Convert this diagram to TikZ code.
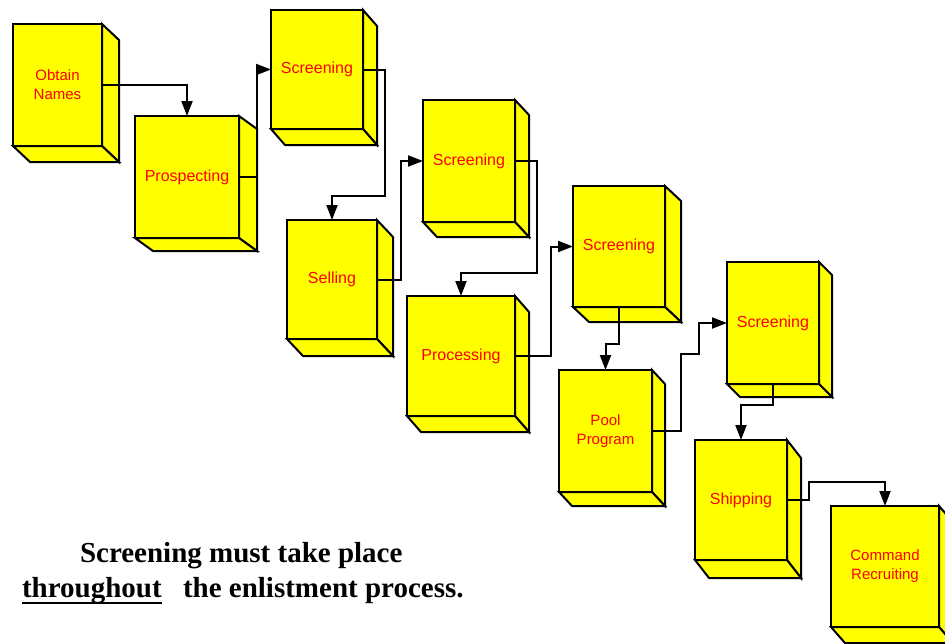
\documentclass[tikz,border=0pt]{standalone}
\usepackage{fontspec}
\setmainfont{Liberation Serif}
\newfontfamily\boxfont{Liberation Sans}
\usetikzlibrary{arrows.meta}
\definecolor{boxyellow}{RGB}{255,255,0}
\definecolor{boxred}{RGB}{255,0,0}
\tikzset{
  box/.style={draw, fill=boxyellow, line width=2pt, inner sep=0pt, outer sep=0pt,
    anchor=north west, text=boxred, align=center,
    font=\boxfont\fontsize{16}{19}\selectfont},
  small/.style={font=\boxfont\fontsize{15}{19}\selectfont},
  face/.style={draw, fill=boxyellow, line width=2pt, line join=miter},
  conn/.style={line width=2pt, -{Triangle[length=15pt,width=11pt]}},
  note/.style={inner sep=0pt, outer sep=0pt, anchor=base west,
    font=\bfseries\fontsize{29}{33}\selectfont}
}
% side and bottom faces of a box: node name, depth right, depth down
\newcommand\sides[3]{%
  \draw[face] (#1.north east) -- ++(#2,-#3) -- ([shift={(#2,-#3)}]#1.south east)
     -- (#1.south east) -- cycle;
  \draw[face] (#1.south west) -- ([shift={(#2,-#3)}]#1.south west)
     -- ([shift={(#2,-#3)}]#1.south east) -- (#1.south east) -- cycle;
}
\begin{document}
\begin{tikzpicture}[x=1pt,y=1pt]
\useasboundingbox (0,0) rectangle (945,-643);
\clip (0,0) rectangle (945,-643);

% stages
\node[box, small, minimum width=89, minimum height=122] (on) at (13,-24) {Obtain\\Names};
\sides{on}{17}{16}
\node[box, minimum width=104, minimum height=122] (pr) at (135,-116) {Prospecting};
\sides{pr}{18}{13}
\node[box, minimum width=92, minimum height=119] (s1) at (271,-10) {Screening};
\sides{s1}{14}{16}
\node[box, minimum width=90, minimum height=119] (se) at (287,-220) {Selling};
\sides{se}{16}{17}
\node[box, minimum width=92, minimum height=122] (s2) at (423,-100) {Screening};
\sides{s2}{14}{15}
\node[box, minimum width=108, minimum height=120] (pc) at (407,-296) {Processing};
\sides{pc}{14}{16}
\node[box, minimum width=92, minimum height=121] (s3) at (573,-186) {Screening};
\sides{s3}{16}{15}
\node[box, small, minimum width=93, minimum height=122] (pp) at (559,-370) {Pool\\Program};
\sides{pp}{13}{14}
\node[box, minimum width=92, minimum height=122] (s4) at (727,-262) {Screening};
\sides{s4}{13}{13}
\node[box, minimum width=92, minimum height=120] (sh) at (695,-440) {Shipping};
\sides{sh}{14}{18}
\node[box, small, minimum width=108, minimum height=121] (cr) at (831,-506) {Command\\Recruiting};
\sides{cr}{14}{16}

% flow between stages
\draw[conn] (on.east) -| (pr.north);
\draw[conn] (pr.east) -- ++(18,0) |- (s1.west);
\draw[conn] (s1.east) -- ++(22,0) |- ([yshift=24]se.north) -- (se.north);
\draw[conn] (se.east) -- ++(24,0) |- (s2.west);
\draw[conn] (s2.east) -- ++(22,0) |- ([yshift=23]pc.north) -- (pc.north);
\draw[conn] (pc.east) -- ++(36,0) |- (s3.west);
\draw[conn] (s3.south) -- ++(0,-37) -| (pp.north);
\coordinate (step8) at (699,-354);
\draw[conn] (pp.east) -- ++(29,0) |- (step8) |- (s4.west);
\draw[conn] (s4.south) -- ++(0,-21) -| (sh.north);
\draw[conn] (sh.east) -- ++(22,0) |- ([yshift=24]cr.north) -- (cr.north);

% remark
\node[note] (l1) at (80,-562) {Screening must take place};
\node[note] (l2a) at (22,-597) {throughout};
\node[note] (l2b) at (183,-597) {the enlistment process.};
\draw[line width=2pt] ([yshift=-6]l2a.base west) -- ([yshift=-6]l2a.base east);
\end{tikzpicture}
\end{document}
